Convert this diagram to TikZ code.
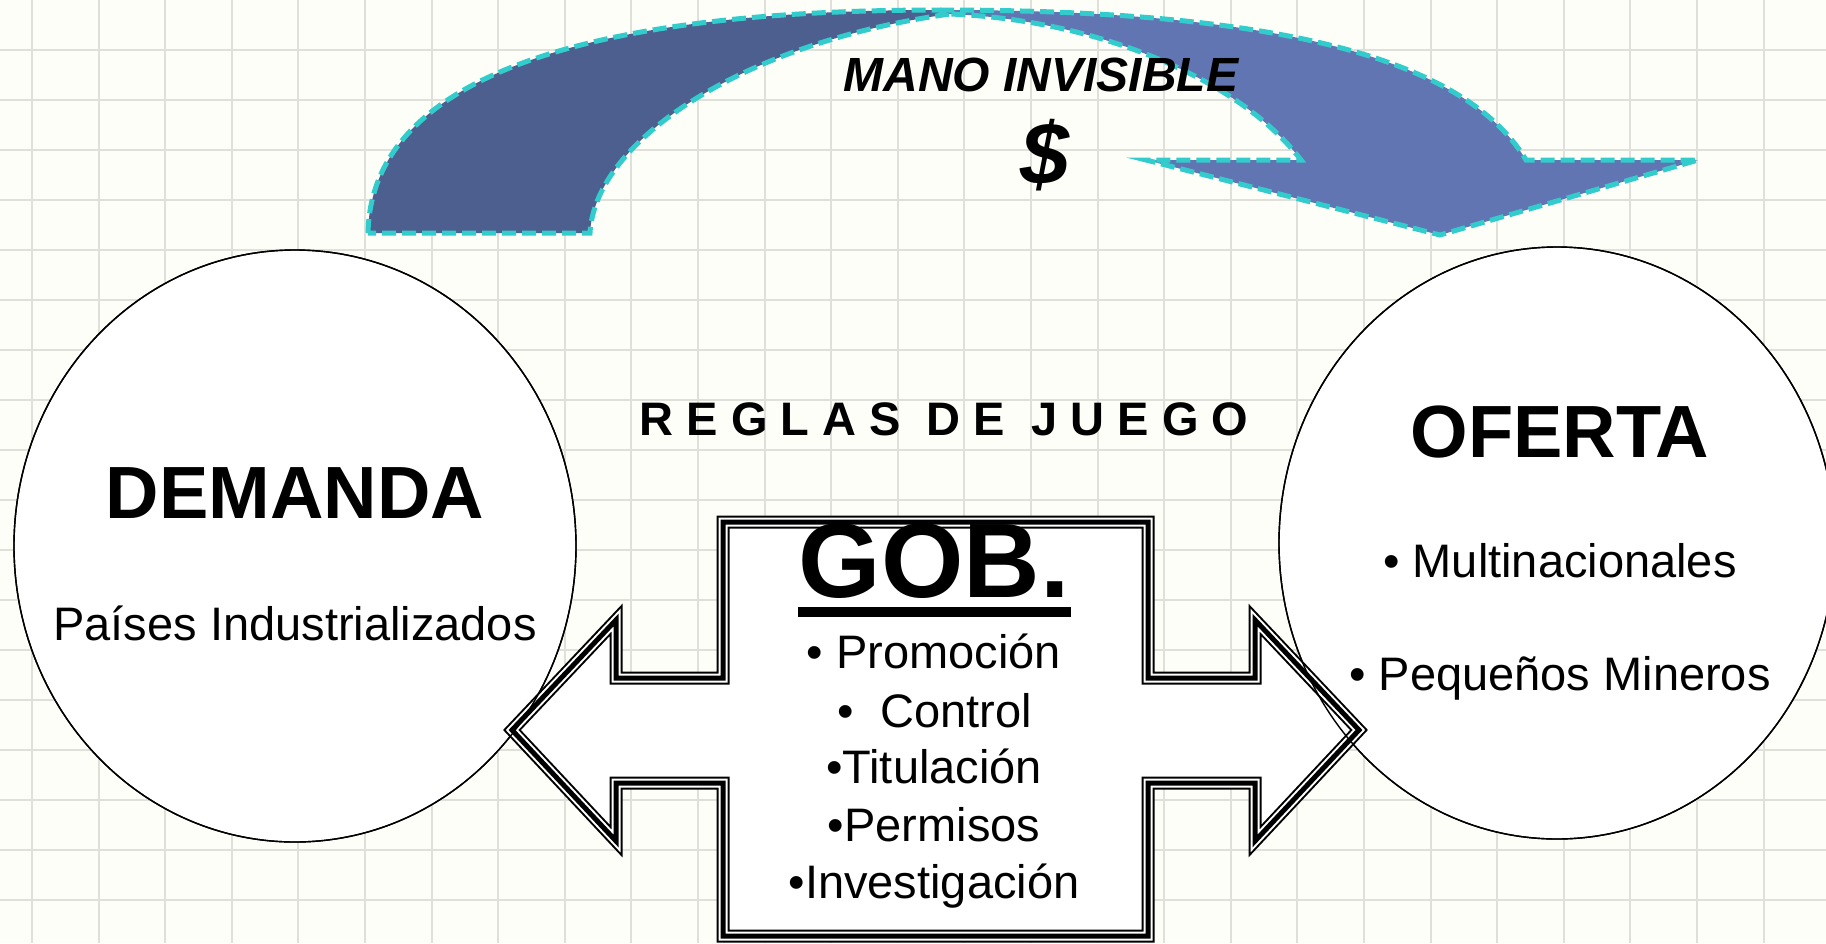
\documentclass[tikz,border=0pt]{standalone}
\usepackage{fontspec}
\setmainfont{Liberation Sans}
\usetikzlibrary{calc}

\definecolor{paper}{HTML}{FDFEF8}
\definecolor{gridgray}{HTML}{DFE0DA}
\definecolor{bandDark}{HTML}{4D5F8F}
\definecolor{bandLight}{HTML}{6175B3}
\definecolor{dashCyan}{HTML}{33CCCC}

\tikzset{
  gridline/.style={gridgray, line width=1pt},
  bandedge/.style={draw=dashCyan, line width=2.5pt, dash pattern=on 7pt off 3pt},
  bubble/.style={black, line width=0.7pt},
  txt/.style={anchor=base, inner sep=0pt},
  triple/.style={preaction={fill=white},
    preaction={draw=black, line width=6.5pt},
    preaction={draw=white, line width=4.5pt},
    draw=black, line width=2.5pt, line join=miter, miter limit=10},
}

\begin{document}
\begin{tikzpicture}[x=0.5pt, y=-0.5pt]
    \useasboundingbox (0,0) rectangle (1826,943);
    \clip (0,0) rectangle (1826,943);
    \fill[paper] (0,0) rectangle (1826,943);
    \foreach \gx in {0,...,27} {\draw[gridline] ({32+66.6*\gx},0) -- ({32+66.6*\gx},943);}
    \foreach \gy in {1,...,18} {\draw[gridline] (0,{50*\gy}) -- (1826,{50*\gy});}

    % circles
    \coordinate (dem) at (295,546);
    \coordinate (ofe) at (1557,543);
    \filldraw[bubble, fill=white] (dem) ellipse [x radius=281, y radius=296];
    \filldraw[bubble, fill=white] (ofe) ellipse [x radius=278, y radius=296];

    % curved arrow
    \filldraw[fill=bandDark, bandedge] (368,233) .. controls (372,40) and (700,10) .. (940,10)
        -- (950,14) .. controls (745,42) and (595,140) .. (590,233) -- cycle;
    \filldraw[fill=bandLight, bandedge] (940,10) .. controls (1250,10) and (1460,50) .. (1526,160)
        -- (1698,160) -- (1440,235) -- (1146,160) -- (1301,160)
        .. controls (1240,80) and (1100,20) .. (950,14) -- cycle;

    % government double arrow
    \path[triple] (723,522) -- (1148,522) -- (1148,678) -- (1255,678) -- (1255,620) -- (1359,730)
        -- (1255,841) -- (1255,783) -- (1148,783) -- (1148,936) -- (723,936) -- (723,783)
        -- (616,783) -- (616,841) -- (512,730) -- (616,620) -- (616,678) -- (723,678) -- cycle;
    \draw[bubble] (dem) ellipse [x radius=281, y radius=296];
    \draw[bubble] (ofe) ellipse [x radius=278, y radius=296];

    % texts
    \node[txt, font=\fontsize{24}{28}\selectfont\bfseries\itshape] (mano) at (1041,91) {MANO INVISIBLE};
    \node[inner sep=0pt, font=\fontsize{44}{50}\selectfont\bfseries\itshape] (dolar) at (1045,155) {\$};
    \node[txt, font=\fontsize{23.5}{28}\selectfont\bfseries] (reglas) at (944,435) {R E G L A S\ \ D E\ \ J U E G O};

    \node[txt, font=\fontsize{37}{40}\selectfont\bfseries] (demanda) at (295,518) {DEMANDA};
    \node[txt, font=\fontsize{23.5}{28}\selectfont] (paises) at (295,640) {Países Industrializados};

    \node[txt, font=\fontsize{37}{40}\selectfont\bfseries] (oferta) at (1560,457) {OFERTA};
    \node[txt, font=\fontsize{23.5}{28}\selectfont] (multi) at (1560,577) {• Multinacionales};
    \node[txt, font=\fontsize{23.5}{28}\selectfont] (pequenos) at (1560,690) {• Pequeños Mineros};

    \node[txt, font=\fontsize{53}{60}\selectfont\bfseries] (gob) at (934,597) {GOB.};
    \draw[line width=5pt] (798,612) -- (1071,612);
    \node[txt, font=\fontsize{23.5}{28}\selectfont] (promo) at (934,668) {• Promoción};
    \node[txt, font=\fontsize{23.5}{28}\selectfont] (control) at (935,727) {•\ \ Control};
    \node[txt, font=\fontsize{23.5}{28}\selectfont] (titul) at (934,783) {•Titulación};
    \node[txt, font=\fontsize{23.5}{28}\selectfont] (permi) at (934,841) {•Permisos};
    \node[txt, font=\fontsize{23.5}{28}\selectfont] (inves) at (934,898) {•Investigación};
\end{tikzpicture}
\end{document}
